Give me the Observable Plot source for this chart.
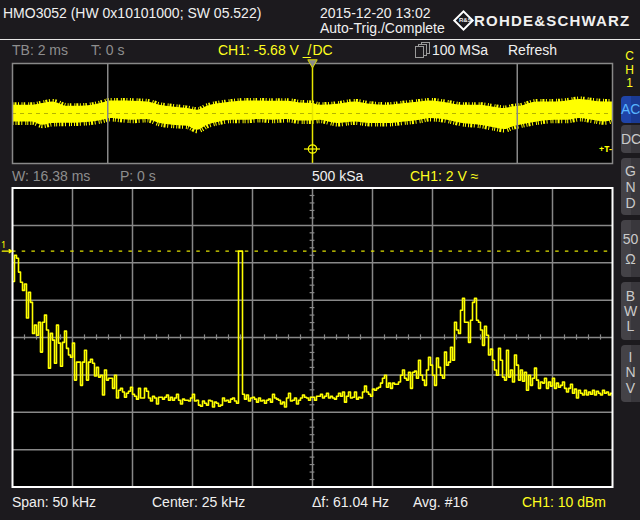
<!DOCTYPE html>
<html><head><meta charset="utf-8">
<script src="https://cdn.jsdelivr.net/npm/d3@7"></script>
<script src="https://cdn.jsdelivr.net/npm/@observablehq/plot@0.6"></script>
<style>
html,body{margin:0;padding:0;background:#1c1a1e;}
#scr{position:relative;width:640px;height:520px;background:#1c1a1e;overflow:hidden;font-family:"Liberation Sans",Arial,sans-serif;font-size:14px;color:#f0f0f0;}
.t{position:absolute;white-space:nowrap;line-height:14px;}
.g{color:#8e8e8e}.y{color:#ffff1e}
.btn{position:absolute;left:621px;width:19px;border-radius:4px 0 0 4px;background:linear-gradient(to right,#444247 0,#444247 50%,#39373c 50%);color:#cacaca;text-align:center;font-size:14px;box-sizing:border-box;}
.plot{position:absolute;left:0;}
.pg{position:absolute;width:7px;height:10px;border:1.5px solid #9a9a9a;background:#1c1a1e;}
.ch{position:absolute;left:623px;width:13px;text-align:center;font-size:12px;line-height:12px;color:#ffff1e;}
</style>
</head><body>
<div id="scr">
  <div class="t" style="left:3px;top:6px;">HMO3052 (HW 0x10101000; SW 05.522)</div>
  <div class="t" style="left:320px;top:6px;">2015-12-20 13:02</div>
  <div class="t" style="left:320px;top:21px;">Auto-Trig./Complete</div>
  <div style="position:absolute;left:456px;top:13px;width:11px;height:11px;border:2px solid #fff;transform:rotate(45deg);"></div>
  <div class="t" style="left:459px;top:17px;font-size:6px;line-height:6px;font-weight:bold;">R&amp;S</div>
  <div class="t" style="left:474px;top:13px;font-weight:bold;font-size:15px;line-height:15px;letter-spacing:1.2px;">ROHDE&amp;SCHWARZ</div>
  <div style="position:absolute;left:0;top:39px;width:640px;height:1px;background:#e6e6e6;"></div>

  <div class="t g" style="left:12px;top:43px;">TB: 2 ms</div>
  <div class="t g" style="left:91px;top:43px;">T: 0 s</div>
  <div class="t y" style="left:218px;top:43px;">CH1: -5.68 V <span style="letter-spacing:-3px">_/</span> DC</div>
  <div class="pg" style="left:421px;top:42px;"></div>
  <div class="pg" style="left:418px;top:44px;"></div>
  <div class="pg" style="left:415px;top:46px;"></div>
  <div class="t" style="left:432px;top:43px;">100 MSa</div>
  <div class="t" style="left:508px;top:43px;">Refresh</div>
  <div class="ch" style="top:50px;">C</div>
  <div class="ch" style="top:63.5px;">H</div>
  <div class="ch" style="top:77px;">1</div>

  <div class="t g" style="left:12px;top:168.5px;">W: 16.38 ms</div>
  <div class="t g" style="left:120px;top:168.5px;">P: 0 s</div>
  <div class="t" style="left:312px;top:168.5px;">500 kSa</div>
  <div class="t y" style="left:410px;top:168.5px;">CH1: 2 V ≈</div>

  <div class="t" style="left:12px;top:494.5px;">Span: 50 kHz</div>
  <div class="t" style="left:152px;top:494.5px;">Center: 25 kHz</div>
  <div class="t" style="left:312px;top:494.5px;">Δf: 61.04 Hz</div>
  <div class="t" style="left:413px;top:494.5px;">Avg. #16</div>
  <div class="t y" style="left:522px;top:494.5px;">CH1: 10 dBm</div>

  <div class="btn" style="top:96px;height:27px;background:linear-gradient(to right,#1f44a8 0,#1f44a8 50%,#1a3a93 50%);color:#58b4ff;line-height:27px;">AC</div>
  <div class="btn" style="top:125px;height:28px;line-height:28px;">DC</div>
  <div class="btn" style="top:158px;height:57px;padding-top:5px;line-height:16px;">G<br>N<br>D</div>
  <div class="btn" style="top:220px;height:57px;padding-top:9px;line-height:20px;">50<br>Ω</div>
  <div class="btn" style="top:282px;height:58px;padding-top:7px;line-height:15px;">B<br>W<br>L</div>
  <div class="btn" style="top:345px;height:57px;padding-top:5px;line-height:15.3px;">I<br>N<br>V</div>

  <div id="timePane" class="plot" style="top:62px;"></div>
  <div id="specPane" class="plot" style="top:186px;"></div>
</div>
<script>
// ---- Spectrum (FFT) : level in dBm per bin, 0 .. 50 kHz span ----
const spanKHz = 50;
const levelsDbm = [
-25.0,-18.0,-18.8,-22.5,-25.2,-27.4,-25.7,-34.8,-27.9,-30.6,
-38.9,-36.7,-39.4,-35.9,-43.9,-35.9,-34.0,-38.0,-48.2,-38.9,
-40.7,-46.9,-36.7,-41.5,-47.7,-41.3,-38.3,-42.9,-44.7,-45.3,
-41.5,-51.4,-46.6,-46.6,-52.8,-46.6,-43.4,-51.4,-46.6,-45.8,
-46.9,-50.3,-48.0,-50.6,-50.1,-55.4,-48.7,-51.4,-50.9,-50.9,
-53.6,-50.1,-56.2,-54.1,-53.6,-54.6,-56.0,-54.9,-54.4,-53.3,
-55.2,-55.7,-56.5,-53.6,-56.2,-56.2,-53.6,-54.4,-56.2,-57.0,
-55.7,-56.2,-57.8,-56.0,-56.0,-56.5,-56.0,-55.4,-56.8,-56.0,
-56.8,-56.2,-55.2,-56.8,-57.8,-56.5,-56.8,-56.8,-57.0,-56.2,
-55.2,-57.0,-56.8,-58.1,-58.4,-57.0,-57.6,-58.1,-56.8,-57.0,
-58.6,-57.3,-57.6,-58.4,-58.1,-56.2,-57.0,-56.8,-57.3,-56.5,
-56.2,-57.0,-57.6,-16.9,-16.9,-55.2,-56.5,-55.4,-57.0,-56.2,
-56.0,-56.5,-57.3,-56.2,-57.0,-56.8,-57.6,-56.8,-56.5,-57.3,
-55.2,-56.2,-56.5,-56.8,-57.8,-57.3,-58.6,-56.2,-54.9,-57.0,
-56.8,-56.2,-57.8,-56.8,-56.2,-55.4,-56.0,-56.2,-56.8,-56.0,
-56.0,-56.8,-55.7,-55.7,-55.2,-56.2,-55.7,-54.9,-56.2,-55.7,
-56.2,-56.5,-55.7,-54.9,-55.7,-54.6,-57.3,-55.7,-54.6,-56.2,
-56.0,-54.6,-56.5,-56.0,-56.2,-54.6,-53.0,-54.6,-55.2,-55.7,
-53.8,-54.1,-53.6,-53.3,-52.2,-50.9,-50.1,-53.3,-52.2,-53.6,
-52.2,-52.5,-52.5,-51.9,-50.1,-48.7,-50.9,-51.4,-49.3,-53.6,
-49.3,-49.0,-50.9,-46.1,-50.1,-51.4,-52.8,-48.7,-45.3,-47.4,
-50.1,-52.8,-45.5,-48.0,-50.1,-50.9,-43.9,-47.4,-46.6,-42.6,
-46.1,-35.9,-38.0,-38.9,-32.7,-29.5,-35.9,-35.9,-41.3,-35.4,
-30.6,-29.5,-35.4,-35.9,-38.0,-42.1,-37.0,-39.4,-44.7,-43.1,
-46.1,-48.7,-50.1,-42.9,-46.1,-50.6,-51.4,-43.4,-50.6,-48.7,
-51.9,-44.7,-47.4,-51.4,-48.7,-51.7,-49.3,-54.1,-50.1,-52.8,
-50.9,-48.2,-51.4,-53.6,-51.9,-52.2,-50.9,-53.6,-51.9,-53.0,
-50.9,-53.6,-52.2,-53.3,-52.8,-51.9,-53.6,-54.6,-53.6,-52.5,
-54.9,-53.8,-56.2,-54.1,-54.9,-55.4,-54.1,-55.4,-54.6,-55.2,
-54.1,-55.4,-54.4,-54.9,-55.4,-54.1,-54.9,-54.6,-55.4,-54.9,
-55.7
];
const freqGridKHz = [0,5,10,15,20,25,30,35,40,45,50];
const levelGridDbm = [0,-10,-20,-30,-40,-50,-60,-70,-80];
const refLevelDbm = -16.9;

// ---- Time-domain record: envelope of the noisy trace (V) ----
const timeMs = [-12,-11.2,-10.8,-10.4,-9.8,-9.3,-8.8,-8.4,-8.1,-7.6,-7.2,-6.6,-6.1,-5.6,-5.0,-4.6,-4.2,-3.7,-3.2,-2.6,-2.1,-1.6,-1.0,-0.5,0.0,0.3,1.0,1.7,2.3,3.0,3.7,4.3,4.7,5.4,6.0,6.7,7.2,7.7,8.0,8.3,9.0,9.7,10.2,10.7,11.2,11.7,12];
const bandHighV = [1.33,1.33,1.6,1.86,1.17,1.17,1.33,1.70,2.02,2.02,1.97,1.86,1.33,1.06,0.8,0.53,1.17,1.6,1.86,2.02,2.02,1.97,1.97,1.70,1.6,1.33,1.49,1.86,1.49,1.33,1.6,1.86,2.02,1.70,1.33,1.33,1.06,0.8,1.06,1.17,1.86,1.86,2.02,2.24,2.02,1.86,1.86];
const bandLowV = [-1.34,-1.34,-1.87,-1.6,-1.55,-1.5,-1.34,-1.07,-0.8,-0.96,-1.07,-0.96,-1.6,-1.87,-2.03,-2.67,-1.87,-1.34,-1.07,-1.07,-0.96,-1.07,-0.96,-1.18,-1.18,-1.07,-1.6,-1.34,-1.6,-1.6,-1.34,-1.07,-0.8,-1.07,-1.6,-1.87,-2.24,-2.56,-2.14,-1.87,-1.34,-1.07,-1.07,-0.8,-1.07,-1.34,-1.07];
const recordMs = 24;
const windowMs = 16.38;
const triggerLevelV = -5.68;
const voltsRange = 8;

const YEL = "#ffff00", GRID = "#888888";

// ---------- lower: spectrum ----------
const binKHz = spanKHz / (levelsDbm.length - 1);
const spec = levelsDbm.map((v, i) => ({f: i * binKHz, v}));
const minorF = d3.range(1, spanKHz).filter(d => d % 5 !== 0);
const minorL = d3.range(-78, 0, 2).filter(d => d % 10 !== 0);

const specPlot = Plot.plot({
  width: 614, height: 302,
  marginLeft: 12, marginRight: 2, marginTop: 1.5, marginBottom: 1.5,
  x: {domain: [0, spanKHz], axis: null},
  y: {domain: [-80, 0], axis: null},
  style: {background: "transparent", overflow: "visible"},
  marks: [
    Plot.frame({fill: "#000"}),
    Plot.ruleX(freqGridKHz.slice(1, -1), {stroke: GRID, strokeWidth: 1.5}),
    Plot.ruleY(levelGridDbm.slice(1, -1), {stroke: GRID, strokeWidth: 1.5}),
    Plot.ruleX(minorF, {x: d => d, y1: -40.7, y2: -39.3, stroke: GRID, strokeWidth: 1.2}),
    Plot.ruleY(minorL, {y: d => d, x1: 24.8, x2: 25.2, stroke: GRID, strokeWidth: 1.2}),
    Plot.ruleY([refLevelDbm], {stroke: "#e2e200", strokeWidth: 1.3, strokeDasharray: "3.5,6.2"}),
    Plot.line(spec, {x: "f", y: "v", curve: "step-after", stroke: YEL, strokeWidth: 1.6, clip: true}),
    Plot.frame({stroke: "#ffffff", strokeWidth: 2}),
    Plot.text([refLevelDbm], {x: 0, y: d => d, text: () => "1", dx: -9, dy: -6, fill: YEL, fontSize: 9}),
    Plot.arrow([refLevelDbm], {x1: -0.85, x2: -0.05, y1: d => d, y2: d => d, stroke: YEL, strokeWidth: 1.3, headLength: 5})
  ]
});
document.getElementById("specPane").appendChild(specPlot);

// ---------- top: time domain ----------
const band = timeMs.map((t, i) => ({t, hi: bandHighV[i], lo: bandLowV[i]}));
const timePlot = Plot.plot({
  width: 614, height: 102,
  marginLeft: 12, marginRight: 2, marginTop: 1, marginBottom: 1,
  x: {domain: [-recordMs / 2, recordMs / 2], axis: null},
  y: {domain: [-voltsRange, voltsRange], axis: null},
  style: {background: "transparent", overflow: "visible"},
  marks: [
    Plot.frame({fill: "#000"}),
    Plot.areaY(band, {x: "t", y1: "lo", y2: "hi", fill: YEL, curve: "monotone-x"}),
    Plot.line(band, {x: "t", y: "hi", stroke: YEL, strokeWidth: 6, strokeLinecap: "butt", strokeDasharray: "1,1,2,1.5,1,2.5,1,1.2,1.5,3", curve: "monotone-x", clip: true}),
    Plot.line(band, {x: "t", y: "lo", stroke: YEL, strokeWidth: 6, strokeLinecap: "butt", strokeDasharray: "1,2,1,1.2,2,1.6,1,3,1,1", curve: "monotone-x", clip: true}),
    Plot.ruleY([0], {stroke: "#b4b400", strokeWidth: 1, strokeDasharray: "4,4"}),
    Plot.ruleX([-windowMs / 2, windowMs / 2], {stroke: GRID, strokeWidth: 1.5}),
    Plot.ruleX([0], {stroke: "#e6e600", strokeWidth: 1.5}),
    Plot.ruleY([triggerLevelV], {x1: -0.32, x2: 0.32, stroke: YEL, strokeWidth: 1.2}),
    Plot.dot([triggerLevelV], {x: 0, y: d => d, r: 4.2, stroke: YEL, strokeWidth: 1.2, fill: "none"}),
    Plot.frame({stroke: GRID, strokeWidth: 1.5}),
    Plot.text([triggerLevelV], {x: recordMs / 2, y: d => d, text: () => "+T-", dx: -7, fill: YEL, fontSize: 9, fontWeight: "bold"}),
    Plot.dot([voltsRange], {x: 0, y: d => d, symbol: "triangle", rotate: 180, r: 3.5, dy: -1, fill: "#8a8a8a", stroke: "#d8d800", strokeWidth: 1})
  ]
});
document.getElementById("timePane").appendChild(timePlot);
</script>
</body></html>
